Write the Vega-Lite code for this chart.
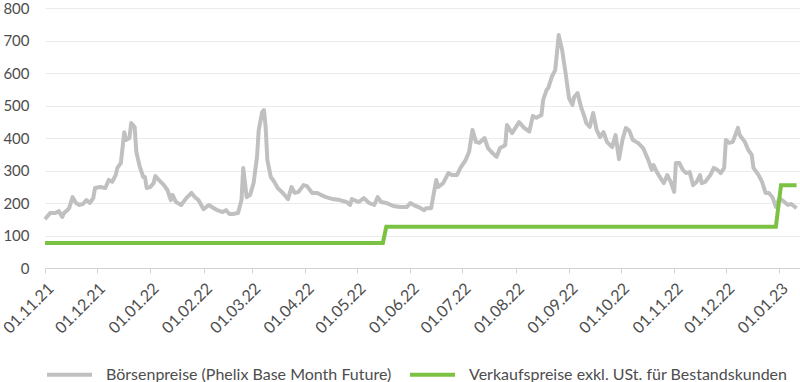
{
  "$schema": "https://vega.github.io/schema/vega-lite/v6.json",
  "width": 755,
  "height": 260,
  "autosize": "none",
  "padding": {"left": 45, "top": 8, "right": 0, "bottom": 114},
  "background": "white",
  "config": {
    "view": {"stroke": null},
    "font": "Lato",
    "axis": {"labelFont": "Lato", "labelColor": "#4d4d4d", "labelFontSize": 16, "title": null},
    "legend": {"labelFont": "Lato", "labelColor": "#4d4d4d", "labelFontSize": 16}
  },
  "encoding": {
    "x": {
      "field": "date", "type": "temporal",
      "scale": {"domain": [{"year": 2021, "month": 11, "date": 1}, {"year": 2023, "month": 1, "date": 13}]},
      "axis": {
        "tickCount": {"interval": "month", "step": 1},
        "format": "%d.%m.%y",
        "labelAngle": -45,
        "labelAlign": "right",
        "labelBaseline": "top",
        "labelPadding": 7,
        "grid": false,
        "domainColor": "#d3d3d3",
        "tickColor": "#d3d3d3",
        "tickSize": 5,
        "labelOverlap": false,
        "labelFlush": false
      }
    },
    "y": {
      "field": "value", "type": "quantitative",
      "scale": {"domain": [0, 800], "nice": false},
      "axis": {
        "values": [0, 100, 200, 300, 400, 500, 600, 700, 800],
        "domain": false, "ticks": false, "labelPadding": 16, "labelFontSize": 15,
        "gridColor": "#ebebeb", "gridWidth": 1
      }
    }
  },
  "layer": [
    {
      "data": {"values": [
        {"date": "2021-11-01", "value": 150}, {"date": "2021-11-03", "value": 163}, {"date": "2021-11-04", "value": 169},
        {"date": "2021-11-07", "value": 169}, {"date": "2021-11-09", "value": 175}, {"date": "2021-11-11", "value": 157},
        {"date": "2021-11-12", "value": 169}, {"date": "2021-11-14", "value": 178}, {"date": "2021-11-15", "value": 184},
        {"date": "2021-11-17", "value": 218}, {"date": "2021-11-19", "value": 200}, {"date": "2021-11-21", "value": 194},
        {"date": "2021-11-23", "value": 197}, {"date": "2021-11-25", "value": 209}, {"date": "2021-11-27", "value": 200},
        {"date": "2021-11-29", "value": 215}, {"date": "2021-11-30", "value": 246}, {"date": "2021-12-03", "value": 249},
        {"date": "2021-12-06", "value": 246}, {"date": "2021-12-08", "value": 271}, {"date": "2021-12-10", "value": 265},
        {"date": "2021-12-12", "value": 286}, {"date": "2021-12-13", "value": 308}, {"date": "2021-12-15", "value": 323},
        {"date": "2021-12-17", "value": 418}, {"date": "2021-12-18", "value": 394}, {"date": "2021-12-20", "value": 400},
        {"date": "2021-12-21", "value": 446}, {"date": "2021-12-23", "value": 434}, {"date": "2021-12-24", "value": 357},
        {"date": "2021-12-26", "value": 311}, {"date": "2021-12-28", "value": 280}, {"date": "2021-12-29", "value": 280},
        {"date": "2021-12-30", "value": 246}, {"date": "2022-01-01", "value": 249}, {"date": "2022-01-03", "value": 261},
        {"date": "2022-01-04", "value": 283}, {"date": "2022-01-06", "value": 271}, {"date": "2022-01-09", "value": 255},
        {"date": "2022-01-11", "value": 240}, {"date": "2022-01-13", "value": 209}, {"date": "2022-01-14", "value": 225},
        {"date": "2022-01-16", "value": 203}, {"date": "2022-01-19", "value": 194}, {"date": "2022-01-22", "value": 215},
        {"date": "2022-01-25", "value": 231}, {"date": "2022-01-27", "value": 218}, {"date": "2022-01-29", "value": 209},
        {"date": "2022-02-01", "value": 181}, {"date": "2022-02-04", "value": 194}, {"date": "2022-02-07", "value": 184},
        {"date": "2022-02-09", "value": 178}, {"date": "2022-02-12", "value": 172}, {"date": "2022-02-14", "value": 178},
        {"date": "2022-02-16", "value": 166}, {"date": "2022-02-18", "value": 166}, {"date": "2022-02-21", "value": 169},
        {"date": "2022-02-23", "value": 209}, {"date": "2022-02-24", "value": 308}, {"date": "2022-02-26", "value": 218},
        {"date": "2022-02-28", "value": 225}, {"date": "2022-03-02", "value": 261}, {"date": "2022-03-04", "value": 342},
        {"date": "2022-03-05", "value": 425}, {"date": "2022-03-07", "value": 480}, {"date": "2022-03-08", "value": 486},
        {"date": "2022-03-09", "value": 434}, {"date": "2022-03-10", "value": 332}, {"date": "2022-03-12", "value": 280},
        {"date": "2022-03-14", "value": 265}, {"date": "2022-03-16", "value": 246}, {"date": "2022-03-19", "value": 231},
        {"date": "2022-03-22", "value": 212}, {"date": "2022-03-24", "value": 249}, {"date": "2022-03-26", "value": 231},
        {"date": "2022-03-28", "value": 234}, {"date": "2022-03-31", "value": 255}, {"date": "2022-04-02", "value": 252},
        {"date": "2022-04-05", "value": 231}, {"date": "2022-04-08", "value": 231}, {"date": "2022-04-10", "value": 225},
        {"date": "2022-04-13", "value": 218}, {"date": "2022-04-17", "value": 212}, {"date": "2022-04-21", "value": 209},
        {"date": "2022-04-25", "value": 203}, {"date": "2022-04-27", "value": 194}, {"date": "2022-04-28", "value": 212},
        {"date": "2022-05-02", "value": 203}, {"date": "2022-05-05", "value": 215}, {"date": "2022-05-08", "value": 200},
        {"date": "2022-05-11", "value": 194}, {"date": "2022-05-13", "value": 218}, {"date": "2022-05-15", "value": 203},
        {"date": "2022-05-18", "value": 200}, {"date": "2022-05-22", "value": 191}, {"date": "2022-05-26", "value": 188},
        {"date": "2022-05-30", "value": 188}, {"date": "2022-06-01", "value": 200}, {"date": "2022-06-04", "value": 191},
        {"date": "2022-06-07", "value": 184}, {"date": "2022-06-09", "value": 178}, {"date": "2022-06-10", "value": 184},
        {"date": "2022-06-13", "value": 184}, {"date": "2022-06-16", "value": 271}, {"date": "2022-06-17", "value": 249},
        {"date": "2022-06-20", "value": 261}, {"date": "2022-06-23", "value": 292}, {"date": "2022-06-25", "value": 286},
        {"date": "2022-06-28", "value": 286}, {"date": "2022-06-30", "value": 308}, {"date": "2022-07-03", "value": 332},
        {"date": "2022-07-05", "value": 357}, {"date": "2022-07-07", "value": 425}, {"date": "2022-07-09", "value": 388},
        {"date": "2022-07-11", "value": 385}, {"date": "2022-07-14", "value": 400}, {"date": "2022-07-16", "value": 369},
        {"date": "2022-07-18", "value": 357}, {"date": "2022-07-21", "value": 342}, {"date": "2022-07-23", "value": 369},
        {"date": "2022-07-26", "value": 378}, {"date": "2022-07-27", "value": 440}, {"date": "2022-07-30", "value": 415},
        {"date": "2022-08-03", "value": 449}, {"date": "2022-08-06", "value": 431}, {"date": "2022-08-09", "value": 420},
        {"date": "2022-08-11", "value": 468}, {"date": "2022-08-13", "value": 462}, {"date": "2022-08-16", "value": 471},
        {"date": "2022-08-17", "value": 517}, {"date": "2022-08-19", "value": 548}, {"date": "2022-08-20", "value": 554},
        {"date": "2022-08-22", "value": 588}, {"date": "2022-08-24", "value": 609}, {"date": "2022-08-25", "value": 662},
        {"date": "2022-08-26", "value": 717}, {"date": "2022-08-28", "value": 671}, {"date": "2022-08-30", "value": 600},
        {"date": "2022-09-01", "value": 523}, {"date": "2022-09-03", "value": 502}, {"date": "2022-09-04", "value": 526},
        {"date": "2022-09-06", "value": 538}, {"date": "2022-09-08", "value": 495}, {"date": "2022-09-10", "value": 465},
        {"date": "2022-09-11", "value": 446}, {"date": "2022-09-13", "value": 434}, {"date": "2022-09-15", "value": 477},
        {"date": "2022-09-17", "value": 425}, {"date": "2022-09-19", "value": 403}, {"date": "2022-09-21", "value": 418},
        {"date": "2022-09-23", "value": 388}, {"date": "2022-09-26", "value": 372}, {"date": "2022-09-28", "value": 409},
        {"date": "2022-09-30", "value": 335}, {"date": "2022-10-02", "value": 394}, {"date": "2022-10-04", "value": 431},
        {"date": "2022-10-06", "value": 422}, {"date": "2022-10-08", "value": 394}, {"date": "2022-10-11", "value": 385},
        {"date": "2022-10-14", "value": 369}, {"date": "2022-10-17", "value": 332}, {"date": "2022-10-19", "value": 302},
        {"date": "2022-10-20", "value": 317}, {"date": "2022-10-22", "value": 295}, {"date": "2022-10-24", "value": 277},
        {"date": "2022-10-26", "value": 261}, {"date": "2022-10-28", "value": 286}, {"date": "2022-10-30", "value": 265},
        {"date": "2022-11-01", "value": 234}, {"date": "2022-11-02", "value": 323}, {"date": "2022-11-04", "value": 323},
        {"date": "2022-11-06", "value": 302}, {"date": "2022-11-08", "value": 292}, {"date": "2022-11-10", "value": 295},
        {"date": "2022-11-12", "value": 255}, {"date": "2022-11-14", "value": 265}, {"date": "2022-11-16", "value": 286},
        {"date": "2022-11-17", "value": 261}, {"date": "2022-11-19", "value": 265}, {"date": "2022-11-22", "value": 286},
        {"date": "2022-11-24", "value": 308}, {"date": "2022-11-26", "value": 302}, {"date": "2022-11-28", "value": 292},
        {"date": "2022-11-30", "value": 308}, {"date": "2022-12-01", "value": 394}, {"date": "2022-12-03", "value": 385},
        {"date": "2022-12-05", "value": 388}, {"date": "2022-12-08", "value": 431}, {"date": "2022-12-09", "value": 409},
        {"date": "2022-12-12", "value": 388}, {"date": "2022-12-14", "value": 363}, {"date": "2022-12-16", "value": 348},
        {"date": "2022-12-17", "value": 308}, {"date": "2022-12-20", "value": 286}, {"date": "2022-12-22", "value": 265},
        {"date": "2022-12-24", "value": 231}, {"date": "2022-12-26", "value": 231}, {"date": "2022-12-28", "value": 218},
        {"date": "2022-12-30", "value": 188}, {"date": "2023-01-01", "value": 215}, {"date": "2023-01-04", "value": 203},
        {"date": "2023-01-06", "value": 194}, {"date": "2023-01-08", "value": 197}, {"date": "2023-01-11", "value": 184}
      ]},
      "mark": {"type": "line", "strokeWidth": 4, "strokeJoin": "round", "clip": false},
      "encoding": {
        "color": {
          "datum": "Börsenpreise (Phelix Base Month Future)",
          "scale": {
            "domain": ["Börsenpreise (Phelix Base Month Future)", "Verkaufspreise exkl. USt. für Bestandskunden"],
            "range": ["#c0c0c0", "#7cc242"]
          },
          "legend": {
            "title": null,
            "orient": "none",
            "direction": "horizontal",
            "legendX": 0,
            "legendY": 342,
            "symbolType": "stroke",
            "symbolSize": 2025,
            "symbolStrokeWidth": 4,
            "labelOffset": 12,
            "columnPadding": 10,
            "labelLimit": 400
          }
        }
      }
    },
    {
      "data": {"values": [
        {"date": "2021-11-01", "value": 77}, {"date": "2022-05-16", "value": 77},
        {"date": "2022-05-18", "value": 127}, {"date": "2022-12-30", "value": 127},
        {"date": "2023-01-02", "value": 255}, {"date": "2023-01-11", "value": 255}
      ]},
      "mark": {"type": "line", "strokeWidth": 4, "clip": false},
      "encoding": {
        "color": {"datum": "Verkaufspreise exkl. USt. für Bestandskunden"}
      }
    }
  ]
}
